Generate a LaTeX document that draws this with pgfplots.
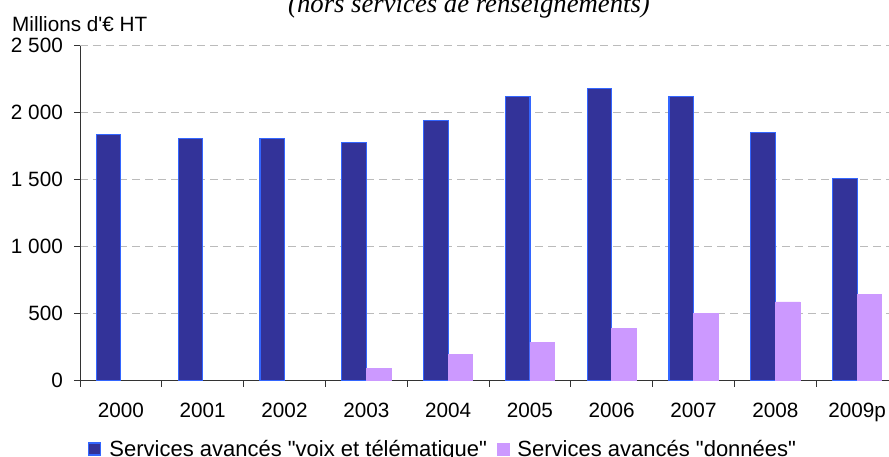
\documentclass[border=0pt]{standalone}
\usepackage{fontspec}
\setmainfont{Liberation Sans}
\newfontfamily\plainsans{Liberation Sans}
\newfontfamily\titlefont{Liberation Serif}
\usepackage{pgfplots}
\pgfplotsset{compat=1.18}
\definecolor{barblue}{HTML}{333399}
\definecolor{bluebord}{HTML}{3366FF}
\definecolor{barpurple}{HTML}{CC99FF}
\definecolor{gridgray}{HTML}{BBBBBB}
\begin{document}
\plainsans
\begin{tikzpicture}[font=\plainsans]
\node[anchor=base, inner sep=0pt, font=\titlefont\itshape\fontsize{26.7}{30}\selectfont] at (469pt,443.3pt) {(hors services de renseignements)};
\node[anchor=base west, inner sep=0pt, font=\plainsans\fontsize{20.7}{24}\selectfont] at (12pt,424.5pt) {Millions d'€ HT};
\begin{axis}[
  at={(80pt,75.3pt)}, anchor=south west,
  scale only axis, width=809pt, height=334.9pt,
  xmin=-0.5, xmax=9.39, ymin=0, ymax=2500,
  axis lines*=left,
  axis line style={black!80, line width=0.9pt},
  tick style={black!80, line width=0.9pt},
  tick align=outside, major tick length=6pt,
  ytick={0,500,1000,1500,2000,2500},
  yticklabels={0,500,1 000,1 500,2 000,2 500},
  xtick={-0.5,0.5,...,8.5},
  xticklabels={2000,2001,2002,2003,2004,2005,2006,2007,2008,2009p},
  xticklabel style={anchor=north, inner sep=0pt, xshift=40.9pt, yshift=-16pt},
  yticklabel style={anchor=east, inner sep=0pt, xshift=-11pt},
  /pgf/number format/assume math mode=true,
  tick label style={font=\plainsans\fontsize{20.7}{24}\selectfont},
  ymajorgrids,
  grid style={gridgray, line width=1.2pt, dash pattern=on 8pt off 5pt},
  ybar, bar width=0.3,
  legend columns=2,
  legend style={draw=none, fill=none, at={(0.0099,-0.204)}, anchor=west,
    inner sep=0pt, nodes={inner sep=0pt}, font=\plainsans\fontsize{22}{26}\selectfont,
    /tikz/every odd column/.append style={column sep=8pt},
    /tikz/every even column/.append style={column sep=10pt}},
  legend image code/.code={\draw[#1] (0pt,-6pt) rectangle (12pt,6pt);},
]
\addplot[fill=barblue, draw=bluebord, line width=1.2pt, bar shift=-0.15] coordinates {
  (0,1840) (1,1810) (2,1810) (3,1780) (4,1940) (5,2120) (6,2180) (7,2120) (8,1850) (9,1510)};
\addplot[fill=barpurple, draw=barpurple, line width=0.5pt, bar shift=0.15] coordinates {
  (3,93) (4,198) (5,288) (6,393) (7,503) (8,588) (9,647)};
\legend{Services avancés "voix et télématique",Services avancés "données"}
\end{axis}
\pgfresetboundingbox
\path[use as bounding box] (0,0) rectangle (889pt,456pt);
\end{tikzpicture}
\end{document}
